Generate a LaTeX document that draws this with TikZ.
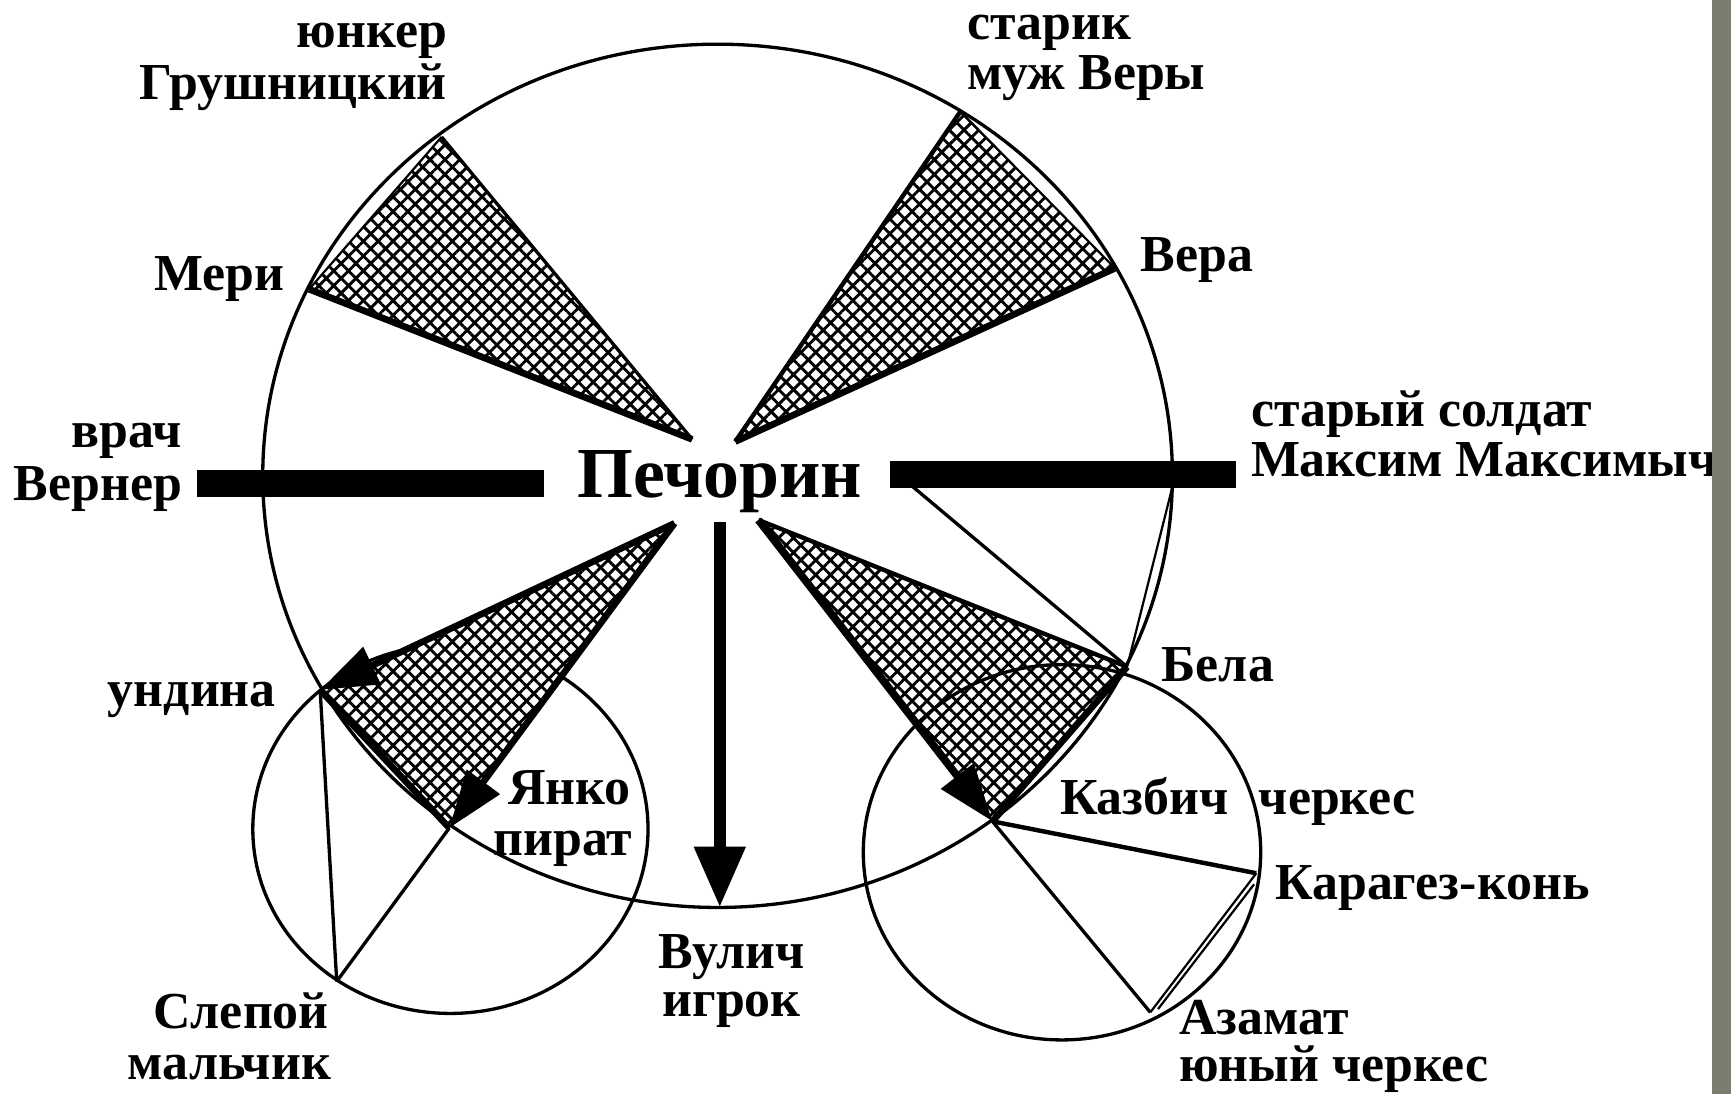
\documentclass[tikz,border=0pt]{standalone}
\usepackage{fontspec}
\setmainfont{Liberation Serif}
\usetikzlibrary{arrows.meta,patterns.meta,shapes.geometric}
\definecolor{stripgrey}{RGB}{121,125,110}
\begin{document}
\begin{tikzpicture}[x=1pt,y=-1pt,
  lab/.style={font=\fontsize{47}{50}\selectfont\bfseries, inner sep=0pt},
  biglab/.style={font=\fontsize{65}{70}\selectfont\bfseries, inner sep=0pt},
  ring/.style={draw, ellipse, line width=3pt, inner sep=0pt, outer sep=0pt},
  hatchfill/.style={pattern={Hatch[angle=45,distance=9.5pt,line width=2.6pt]}, pattern color=black},
  thinl/.style={line width=3pt},
  medl/.style={line width=4pt},
  heavyl/.style={line width=6pt},
  bar/.style={fill=black, draw=none, inner sep=0pt, outer sep=0pt},
  bigtip/.style={-{Triangle[length=52pt,width=36pt]}},
  line join=round]
\useasboundingbox (0,0) rectangle (1568,991);
\fill[white] (0,0) rectangle (1568,991);

% points
\coordinate (A1) at (627,398);
\coordinate (G)  at (400,124);
\coordinate (M)  at (280,262);
\coordinate (A2) at (666,400);
\coordinate (S)  at (870,101);
\coordinate (V)  at (1010,243);
\coordinate (A3) at (611,474);
\coordinate (U)  at (290,625);
\coordinate (Y)  at (407,750);
\coordinate (A4) at (687,471);
\coordinate (B)  at (1021,604);
\coordinate (K)  at (899,744);
\coordinate (S2) at (305,889);
\coordinate (C)  at (1138,791);
\coordinate (Z)  at (1042,917);
\coordinate (C2) at (1136,801);
\coordinate (Z2) at (1049,914);
\coordinate (R1) at (827,441);
\coordinate (R2) at (1062,441);
\coordinate (V0) at (652,473);
\coordinate (V1) at (652,822);

% shaded wedges
\fill[hatchfill] (A1) -- (G) -- (M) -- cycle;
\fill[hatchfill] (A2) -- (S) -- (V) -- cycle;
\fill[hatchfill] (A4) -- (B) -- (K) -- cycle;

% circles
\node[ring, minimum width=824pt, minimum height=782pt] (mainc) at (650,431) {};
\node[ring, minimum width=358pt, minimum height=334pt] (leftc) at (408,751) {};
\node[ring, minimum width=360pt, minimum height=340pt] (rightc) at (962,772) {};

% bottom-left wedge covers the small circle arc
\fill[white] (A3) -- (U) -- (Y) -- cycle;
\fill[hatchfill] (A3) -- (U) -- (Y) -- cycle;

% top-left wedge
\draw[thinl] (A1) -- (G);
\draw[heavyl] (A1) -- (M);
\draw[line width=2pt] (M) -- (G);
% top-right wedge
\draw[medl] (A2) -- (S);
\draw[heavyl] (A2) -- (V);
\draw[line width=2pt] (S) -- (V);
% bottom-left wedge
\draw[heavyl, bigtip] (A3) -- (U);
\draw[heavyl, bigtip] (A3) -- (Y);
\draw[heavyl] (U) -- (Y);
% bottom-right wedge
\draw[medl] (A4) -- (B);
\draw[heavyl] (B) -- (K);
\draw[line width=7pt, bigtip] (A4) -- (K);

% other lines
\draw[thinl] (R1) -- (B);
\draw[line width=2pt] (R2) -- (B);
\draw[thinl] (U) -- (S2);
\draw[thinl] (Y) -- (S2);
\draw[medl] (K) -- (C);
\draw[thinl] (K) -- (Z);
\draw[line width=2pt] (C) -- (Z);
\draw[line width=2pt] (C2) -- (Z2);

% bars
\node[bar, minimum width=315pt, minimum height=24pt] (barL) at (335.5,438) {};
\node[bar, minimum width=314pt, minimum height=24pt] (barR) at (963,430) {};

% Vulich arrow
\draw[line width=11pt, -{Triangle[length=55pt,width=44pt]}] (V0) -- (V1);

% labels
\node[biglab, anchor=base] (pech) at (652,451) {Печорин};
\node[lab, anchor=base east] (junker) at (405,43) {юнкер};
\node[lab, anchor=base east] (grush) at (405,90) {Грушницкий};
\node[lab, anchor=base west] (starik) at (876,36) {старик};
\node[lab, anchor=base west] (muzh) at (876,81) {муж Веры};
\node[lab, anchor=base west] (vera) at (1033,246) {Вера};
\node[lab, anchor=base east] (meri) at (258,263) {Мери};
\node[lab, anchor=base east] (vrach) at (165,405) {врач};
\node[lab, anchor=base east] (verner) at (165,453) {Вернер};
\node[lab, anchor=base west] (soldat) at (1133,386) {старый солдат};
\node[lab, anchor=base west] (maxim) at (1133,432) {Максим Максимыч};
\node[lab, anchor=base east] (undina) at (250,640) {ундина};
\node[lab, anchor=base west] (yanko) at (460,729) {Янко};
\node[lab, anchor=base west] (pirat) at (447,775) {пират};
\node[lab, anchor=base west] (vulich) at (596,877) {Вулич};
\node[lab, anchor=base west] (igrok) at (600,921) {игрок};
\node[lab, anchor=base east] (slepoy) at (298,932) {Слепой};
\node[lab, anchor=base east] (malchik) at (300,978) {мальчик};
\node[lab, anchor=base west] (bela) at (1052,617) {Бела};
\node[lab, anchor=base west] (kazbich) at (960,738) {Казбич};
\node[lab, anchor=base west] (cherkes) at (1140,738) {черкес};
\node[lab, anchor=base west] (karagez) at (1155,815) {Карагез-конь};
\node[lab, anchor=base west] (azamat) at (1068,937) {Азамат};
\node[lab, anchor=base west] (yuny) at (1068,980) {юный черкес};

% grey edge strip
\fill[stripgrey] (1551,0) rectangle (1568,991);
\end{tikzpicture}
\end{document}
